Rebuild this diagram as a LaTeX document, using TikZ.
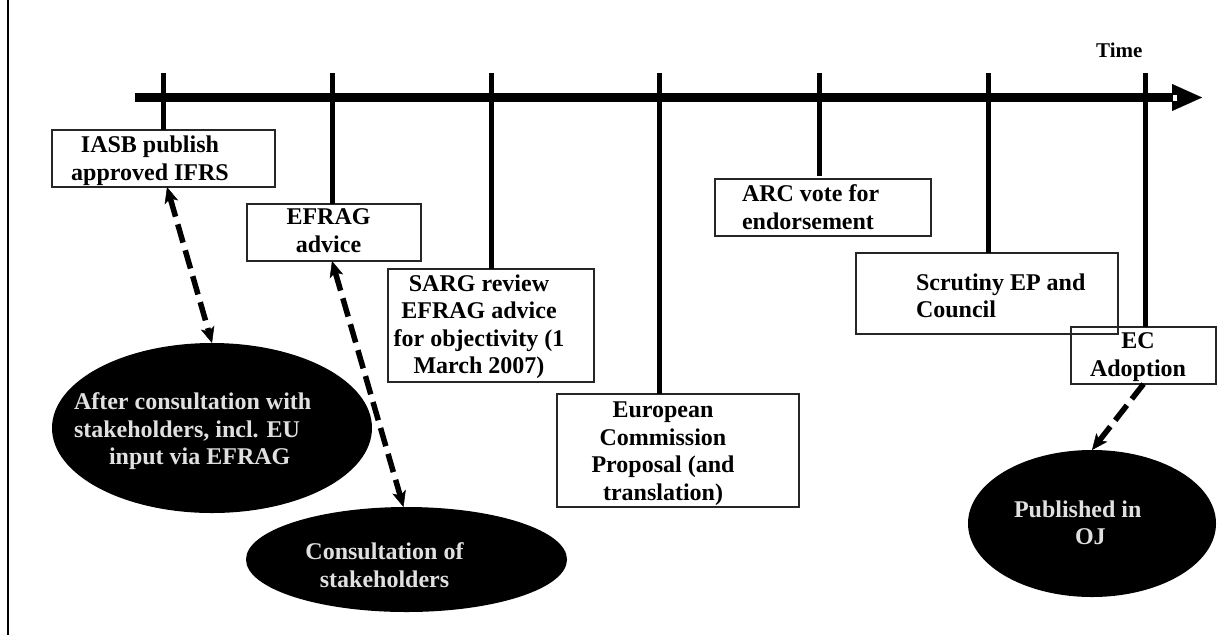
\documentclass[tikz,border=0pt]{standalone}
\usepackage{fontspec}
\setmainfont{Liberation Serif}
\usetikzlibrary{shapes.geometric,arrows.meta}
\begin{document}
\begin{tikzpicture}[x=1pt,y=-1pt,
  box/.style={draw=black!85, line width=1.2pt, rectangle, inner sep=0pt, outer sep=0pt},
  ell/.style={ellipse, fill=black, inner sep=0pt, outer sep=0pt},
  lbl/.style={font=\fontsize{24}{27.5}\selectfont\bfseries, inner sep=0pt, outer sep=0pt,
              execute at begin node=\strut, execute at end node=\strut},
  wlbl/.style={lbl, text=white!88!black},
  tickline/.style={line width=5pt},
  dasharrow/.style={line width=5.5pt, dash pattern=on 19pt off 8pt,
     >={Stealth[length=16pt,width=14pt,inset=4pt,line width=0.5pt]}},
]
\useasboundingbox (0,0) rectangle (1230,635);
% left frame line
\draw[line width=2.5pt] (8,0) -- (8,635);

% time axis
\coordinate (axS) at (135,97.5);
\coordinate (axE) at (1202,97.5);
\draw[line width=8.5pt, -{Triangle[length=30pt,width=27pt,line width=0.1pt]}] (axS) -- (axE);
\fill[white] (1173,94.5) rectangle (1177,100.5);
\node[font=\fontsize{21}{24}\selectfont\bfseries, inner sep=0pt, anchor=base west] (time) at (1096,57) {Time};

% boxes
\node[box, minimum width=223pt, minimum height=57pt] (iasb) at (163.5,158.5) {};
\node[box, minimum width=174pt, minimum height=57pt] (efrag) at (334,232.5) {};
\node[box, minimum width=206pt, minimum height=113pt] (sarg) at (491,325.5) {};
\node[box, minimum width=242pt, minimum height=113pt] (ecp) at (678,450.5) {};
\node[box, minimum width=216pt, minimum height=57pt] (arc) at (823,207.5) {};
\node[box, minimum width=262pt, minimum height=81pt] (scr) at (987,293.5) {};
\node[box, minimum width=145pt, minimum height=57pt] (ecad) at (1143.5,355.5) {};

% ticks
\coordinate (t1) at (163,73);
\coordinate (t2) at (332,73);
\coordinate (t3) at (491,73);
\coordinate (t4) at (659,73);
\coordinate (t5) at (819,73);
\coordinate (t6) at (988,73);
\coordinate (t7) at (1145,73);
\draw[tickline] (t1) -- (t1 |- iasb.north);
\draw[tickline] (t2) -- (t2 |- efrag.north);
\draw[tickline] (t3) -- (t3 |- sarg.north);
\draw[tickline] (t4) -- (t4 |- ecp.north);
\draw[tickline, shorten >=3pt] (t5) -- (t5 |- arc.north);
\draw[tickline] (t6) -- (t6 |- scr.north);
\draw[tickline] (t7) -- (t7 |- ecad.north);

% box texts
\node[lbl, anchor=north, align=center] (iasbT) at (150,136.25) {IASB publish\\approved IFRS};
\node[lbl, anchor=north, align=center] (efragT) at (328.5,208.75) {EFRAG\\advice};
\node[lbl, anchor=north, align=center] (sargT) at (479,274.75) {SARG review\\EFRAG advice\\for objectivity (1\\March 2007)};
\node[lbl, anchor=north, align=center] (ecpT) at (663,402.25) {European\\Commission\\Proposal (and\\translation)};
\node[lbl, anchor=north west, align=left] (arcT) at (742,184.75) {ARC vote for\\endorsement};
\node[lbl, anchor=north west, align=left] (scrT) at (916,273.75) {Scrutiny EP and\\Council};
\node[lbl, anchor=north, align=center] (ecadT) at (1138,332.75) {EC\\Adoption};

% ellipses
\node[ell, minimum width=320pt, minimum height=170pt] (after) at (212,428) {};
\node[ell, minimum width=321pt, minimum height=105pt] (cons) at (406.5,559.5) {};
\node[ell, minimum width=248pt, minimum height=147pt] (pub) at (1092,523.5) {};
\node[wlbl, anchor=north west, align=left] (afterT) at (74,392.75) {After consultation with\\stakeholders, incl. EU\\\hspace*{35pt}input via EFRAG};
\node[wlbl, anchor=north, align=center] (consT) at (384.5,542.75) {Consultation of\\stakeholders};
\node[wlbl, anchor=north west, align=left] (pubT) at (1014,500.75) {Published in\\\hspace*{61pt}OJ};

% dashed arrows
\draw[dasharrow, <->] ([xshift=3.5pt]iasb.south) -- (after.north);
\draw[dasharrow, <->] ([xshift=-2pt]efrag.south) -- ([xshift=-3pt]cons.north);
\draw[dasharrow, ->] (ecad.south) -- (pub.north);
\end{tikzpicture}
\end{document}
